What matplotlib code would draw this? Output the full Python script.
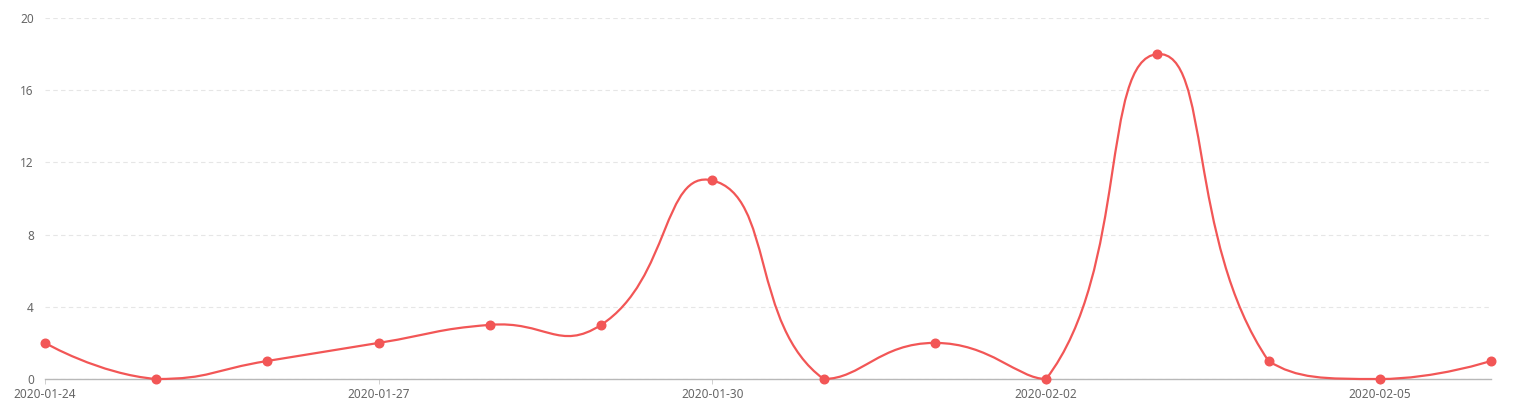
import numpy as np
import matplotlib
matplotlib.use('Agg')
import matplotlib.pyplot as plt
from matplotlib.path import Path
from matplotlib.patches import PathPatch

dates = ['2020-01-24', '2020-01-25', '2020-01-26', '2020-01-27', '2020-01-28',
         '2020-01-29', '2020-01-30', '2020-01-31', '2020-02-01', '2020-02-02',
         '2020-02-03', '2020-02-04', '2020-02-05', '2020-02-06']
values = [2, 0, 1, 2, 3, 3, 11, 0, 2, 0, 18, 1, 0, 1]
y_ticks = [0, 4, 8, 12, 16, 20]

line_color = '#f25656'
plt.rcParams['font.family'] = ['Noto Sans', 'DejaVu Sans']

W, H = 1513, 417
fig = plt.figure(figsize=(W / 100, H / 100), dpi=100)
ax = fig.add_axes([45 / W, (H - 379) / H, 1446 / W, 361 / H])

x = np.arange(len(dates))
ax.set_xlim(0, len(dates) - 1)
ax.set_ylim(0, 20)


def smooth_path(pts, lo, hi, smooth=0.5):
    # bezier smoothing, control points kept inside the plot area
    n = len(pts)
    cps = [pts[0]]
    for i in range(1, n - 1):
        p, prev, nxt = pts[i], pts[i - 1], pts[i + 1]
        v = (nxt - prev) * smooth
        d0 = np.hypot(*(p - prev))
        d1 = np.hypot(*(p - nxt))
        s = d0 + d1
        if s:
            d0, d1 = d0 / s, d1 / s
        c0 = np.clip(p - v * d0, lo, hi)
        c1 = np.clip(p + v * d1, lo, hi)
        cps += [c0, c1]
    cps.append(pts[-1])
    verts = [pts[0]]
    codes = [Path.MOVETO]
    for i in range(n - 1):
        verts += [cps[2 * i], cps[2 * i + 1], pts[i + 1]]
        codes += [Path.CURVE4] * 3
    return np.array(verts), codes


disp = ax.transData.transform(np.column_stack([x, values]))
corners = ax.transData.transform([[0, 0], [len(dates) - 1, 20]])
lo, hi = corners.min(axis=0), corners.max(axis=0)
verts, codes = smooth_path(disp, lo, hi)
verts = ax.transData.inverted().transform(verts)
ax.add_patch(PathPatch(Path(verts, codes), facecolor='none', edgecolor=line_color,
                       lw=1.6, clip_on=False, zorder=3))
ax.plot(x, values, 'o', color=line_color, markersize=6.2, clip_on=False, zorder=4)

ax.set_yticks(y_ticks)
ax.set_xticks(x[::3])
ax.set_xticklabels(dates[::3])
ax.grid(axis='y', color='#e6e6e6', linestyle=(0, (4, 3)), lw=0.8)
ax.set_axisbelow(True)
for s in ['top', 'right', 'left']:
    ax.spines[s].set_visible(False)
ax.spines['bottom'].set_color('#b8b8b8')
ax.spines['bottom'].set_linewidth(1)
ax.tick_params(axis='y', length=0, pad=8)
ax.tick_params(axis='x', length=3.5, width=0.7, color='#d0d0d0', pad=3)
ax.tick_params(axis='both', labelsize=8.5, labelcolor='#666666')

fig.savefig('out.png', dpi=100)
